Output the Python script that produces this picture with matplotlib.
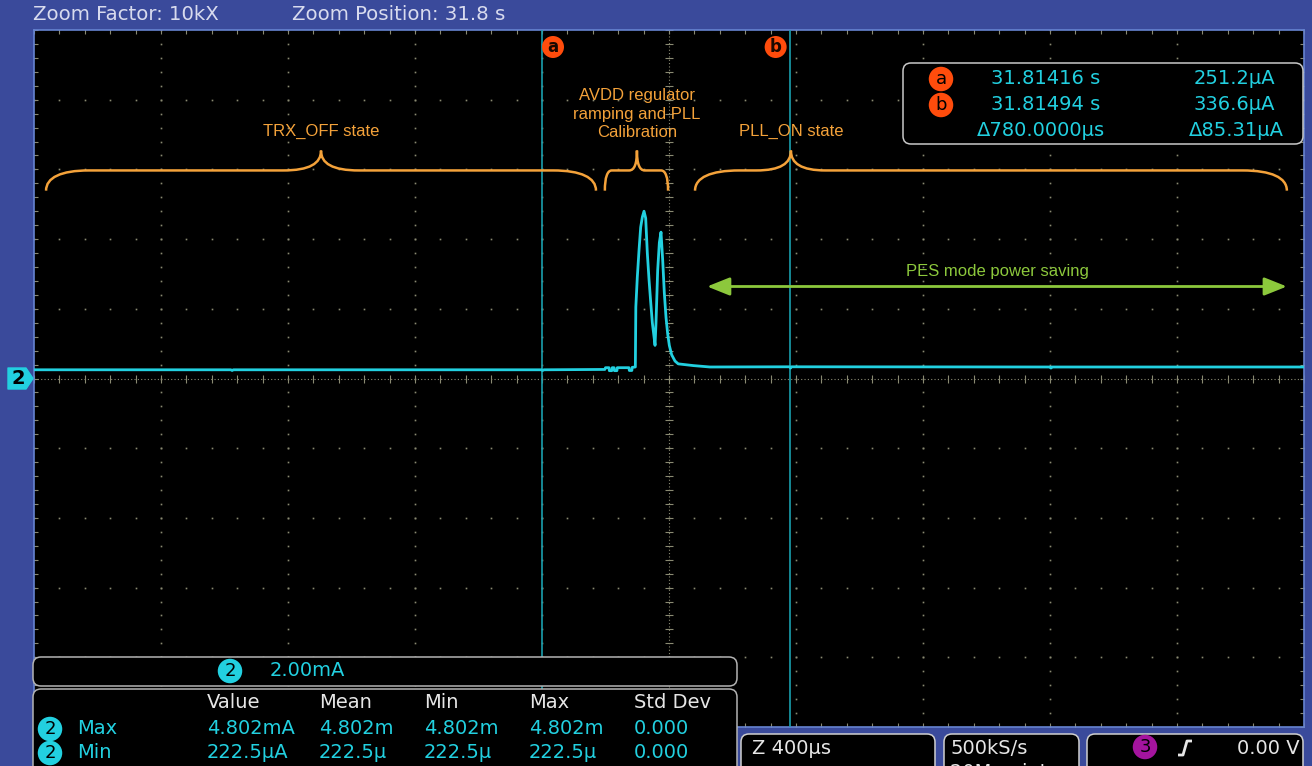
import numpy as np
import matplotlib.pyplot as plt
from matplotlib.patches import FancyBboxPatch, Polygon, PathPatch
from matplotlib.path import Path

W, H = 1312, 766

# --- ajustes del osciloscopio ---
zoom_factor = "10kX"
zoom_position = "31.8 s"
time_div_ms = 0.4          # Z 400us
amp_div_ma = 2.0           # canal 2: 2.00mA/div
n_div = 10
t_center_s = 31.81456

# cursores
cursor_a_s = 31.81416
cursor_b_s = 31.81494
cursor_a_val = "251.2µA"
cursor_b_val = "336.6µA"
cursor_dt = "Δ780.0000µs"
cursor_di = "Δ85.31µA"

# medidas
meas_cols = ["Value", "Mean", "Min", "Max", "Std Dev"]
meas_max = ["4.802mA", "4.802m", "4.802m", "4.802m", "0.000"]
meas_min = ["222.5µA", "222.5µ", "222.5µ", "222.5µ", "0.000"]

# traza del canal 2 (ms respecto al centro, mA)
t_ms = [-2.000, -1.380, -1.376, -1.372, -0.402, -0.398, -0.394, -0.202, -0.200,
        -0.189, -0.188, -0.180, -0.179, -0.173, -0.172, -0.164, -0.163, -0.126,
        -0.125, -0.117, -0.116, -0.106, -0.1045, -0.0998, -0.0945, -0.0892,
        -0.0840, -0.0787, -0.0734, -0.0683, -0.0630, -0.0577, -0.0525, -0.0472,
        -0.0440, -0.0410, -0.0357, -0.0304, -0.0252, -0.0199, -0.0147, -0.0094,
        -0.0042, 0.0010, 0.0084, 0.0190, 0.0290, 0.0770, 0.1290, 0.3800, 0.3830,
        0.3860, 1.2000, 1.2030, 1.2060, 2.000]
i_ma = [0.25, 0.25, 0.23, 0.25, 0.25, 0.23, 0.25, 0.26, 0.31,
        0.31, 0.225, 0.225, 0.31, 0.31, 0.225, 0.225, 0.31, 0.31,
        0.23, 0.23, 0.32, 0.33, 2.05, 2.91, 3.67, 4.34,
        4.63, 4.80, 4.60, 3.60, 2.85, 2.20, 1.60, 1.20,
        0.95, 1.58, 3.10, 3.90, 4.20, 3.40, 2.45, 1.75,
        1.28, 0.95, 0.68, 0.50, 0.42, 0.37, 0.33, 0.336, 0.30,
        0.336, 0.33, 0.30, 0.33, 0.33]

# anotaciones: (inicio, fin, punta) en ms
brace_spans = [(-1.962, -0.230, -1.096), (-0.202, -0.003, -0.101), (0.082, 1.946, 0.384)]
brace_hook = [0.135, 0.022, 0.14]
brace_tip = [0.12, 0.025, 0.11]
brace_labels = ["TRX_OFF state", "AVDD regulator\nramping and PLL\nCalibration", "PLL_ON state"]
pes_span = (0.120, 1.946)
pes_label = "PES mode power saving"

# colores
blue = "#3a4a9b"
frame = "#6683d0"
cyan = "#22d0e0"
cur_col = "#1a9fae"
dot_col = "#8a8a72"
orange = "#f4a23a"
green = "#8cc83c"
red = "#ff4c0c"
ui_font = ["DejaVu Sans"]
ann_font = ["Liberation Sans", "DejaVu Sans"]

fig = plt.figure(figsize=(W / 100, H / 100), dpi=100)
fig.patch.set_facecolor(blue)

# --- reticula ---
ax = fig.add_axes([34 / W, 1 - 727 / H, 1270 / W, 697 / H])
ax.set_facecolor("black")
half_t = n_div / 2 * time_div_ms
half_i = n_div / 2 * amp_div_ma
ax.set_xlim(-half_t, half_t)
ax.set_ylim(-half_i, half_i)
ax.set_xticks([])
ax.set_yticks([])
for s in ax.spines.values():
    s.set_color(frame)
    s.set_linewidth(1.2)

major_x = np.linspace(-half_t, half_t, n_div + 1)
major_y = np.linspace(-half_i, half_i, n_div + 1)
minor_x = np.linspace(-half_t, half_t, 5 * n_div + 1)
minor_y = np.linspace(-half_i, half_i, 5 * n_div + 1)

for xv in major_x[1:-1]:
    if abs(xv) > 1e-9:
        ax.plot(np.full_like(minor_y, xv), minor_y, ls="none", marker="s", ms=1.2,
                mec="none", color=dot_col)
for yv in major_y[1:-1]:
    if abs(yv) > 1e-9:
        ax.plot(minor_x, np.full_like(minor_x, yv), ls="none", marker="s", ms=1.2,
                mec="none", color=dot_col)

# cruz central
ax.axvline(0, color=dot_col, lw=0.8, ls=(0, (1, 2)))
ax.axhline(0, color=dot_col, lw=0.8, ls=(0, (1, 2)))
ax.plot(minor_x, np.zeros_like(minor_x), ls="none", marker="|", ms=6, mew=0.8, color=dot_col)
ax.plot(np.zeros_like(minor_y), minor_y, ls="none", marker="_", ms=6, mew=0.8, color=dot_col)

# marcas en los bordes
for yv in (-half_i, half_i):
    ax.plot(minor_x, np.full_like(minor_x, yv), ls="none", marker="|", ms=6, mew=0.8, color=dot_col)
for xv in (-half_t, half_t):
    ax.plot(np.full_like(minor_y, xv), minor_y, ls="none", marker="_", ms=6, mew=0.8, color=dot_col)

# cursores
ca = (cursor_a_s - t_center_s) * 1000
cb = (cursor_b_s - t_center_s) * 1000
ax.axvline(ca, color=cur_col, lw=1.2, zorder=4)
ax.axvline(cb, color=cur_col, lw=1.2, zorder=4)
for cx, lab, dx in ((ca, "a", 11), (cb, "b", -14)):
    ax.annotate(lab, xy=(cx, half_i), xytext=(dx, -17), textcoords="offset pixels",
                ha="center", va="center", fontsize=12, fontweight="bold", color="#1a0800",
                family=ui_font,
                bbox=dict(boxstyle="circle,pad=0.12", fc=red, ec="none"), zorder=6)

# traza
ax.plot(t_ms, i_ma, color=cyan, lw=2, zorder=5)


def brace(ax, x0, x1, xt, hook, tip, y_end, y_h, y_tip, **kw):
    verts = [(x0, y_end),
             (x0, y_h - (y_h - y_end) * 0.35), (x0 + hook * 0.35, y_h), (x0 + hook, y_h),
             (xt - tip, y_h),
             (xt - tip * 0.3, y_h), (xt, y_h + (y_tip - y_h) * 0.35), (xt, y_tip),
             (xt, y_h + (y_tip - y_h) * 0.35), (xt + tip * 0.3, y_h), (xt + tip, y_h),
             (x1 - hook, y_h),
             (x1 - hook * 0.35, y_h), (x1, y_h - (y_h - y_end) * 0.35), (x1, y_end)]
    codes = [Path.MOVETO, Path.CURVE4, Path.CURVE4, Path.CURVE4, Path.LINETO,
             Path.CURVE4, Path.CURVE4, Path.CURVE4, Path.CURVE4, Path.CURVE4, Path.CURVE4,
             Path.LINETO, Path.CURVE4, Path.CURVE4, Path.CURVE4]
    ax.add_patch(PathPatch(Path(verts, codes), fill=False, **kw))


y_end, y_h, y_tip = 5.39, 5.97, 6.54
for (x0, x1, xt), hk, tp in zip(brace_spans, brace_hook, brace_tip):
    brace(ax, x0, x1, xt, hk, tp, y_end, y_h, y_tip, ec=orange, lw=1.8, zorder=6)

ax.text(brace_spans[0][2], 7.09, brace_labels[0], ha="center", va="center",
        fontsize=12, color=orange, family=ann_font, zorder=6)
ax.text(brace_spans[1][2], 7.58, brace_labels[1], ha="center", va="center",
        fontsize=12, color=orange, family=ann_font, linespacing=1.3, zorder=6)
ax.text(brace_spans[2][2], 7.09, brace_labels[2], ha="center", va="center",
        fontsize=12, color=orange, family=ann_font, zorder=6)

ax.annotate("", xy=(pes_span[1], 2.64), xytext=(pes_span[0], 2.64),
            arrowprops=dict(arrowstyle="<|-|>,head_length=0.55,head_width=0.22",
                            color=green, lw=2, mutation_scale=25, shrinkA=0, shrinkB=0),
            zorder=6)
ax.text(sum(pes_span) / 2, 3.07, pes_label, ha="center", va="center",
        fontsize=12, color=green, family=ann_font, zorder=6)

# --- capa de interfaz en pixeles ---
ov = fig.add_axes([0, 0, 1, 1], zorder=3)
ov.set_xlim(0, W)
ov.set_ylim(H, 0)
ov.axis("off")
ov.patch.set_alpha(0)


def panel(x0, y0, x1, y1, ec="#b4b4b4"):
    ov.add_patch(FancyBboxPatch((x0, y0), x1 - x0, y1 - y0,
                                boxstyle="round,pad=0,rounding_size=8",
                                fc="black", ec=ec, lw=1.1))


def badge(x, y, txt, fc):
    ov.text(x, y, txt, ha="center", va="center", fontsize=13, color="black",
            family=ui_font, bbox=dict(boxstyle="circle,pad=0.18", fc=fc, ec="none"))


# barra superior
ov.text(33, 15, "Zoom Factor: " + zoom_factor, ha="left", va="center",
        fontsize=14.2, color="#d8dbee", family=ui_font)
ov.text(292, 15, "Zoom Position: " + zoom_position, ha="left", va="center",
        fontsize=14.2, color="#d8dbee", family=ui_font)

# lectura de cursores
panel(903, 63, 1303, 144, ec="#c8c8c8")
badge(941, 79, "a", red)
badge(941, 105, "b", red)
ov.text(991, 79, f"{cursor_a_s:.5f} s", ha="left", va="center",
        fontsize=14, color=cyan, family=ui_font)
ov.text(991, 105, f"{cursor_b_s:.5f} s", ha="left", va="center",
        fontsize=14, color=cyan, family=ui_font)
ov.text(977, 131, cursor_dt, ha="left", va="center", fontsize=14, color=cyan, family=ui_font)
ov.text(1275, 79, cursor_a_val, ha="right", va="center", fontsize=14, color=cyan, family=ui_font)
ov.text(1275, 105, cursor_b_val, ha="right", va="center", fontsize=14, color=cyan, family=ui_font)
ov.text(1284, 131, cursor_di, ha="right", va="center", fontsize=14, color=cyan, family=ui_font)

# marcador del canal 2
ov.add_patch(Polygon([(8, 368), (26, 368), (33, 378.5), (26, 389), (8, 389)],
                     closed=True, fc=cyan, ec=cyan, lw=1, joinstyle="round"))
ov.text(18, 379, "2", ha="center", va="center", fontsize=14, fontweight="bold",
        color="black", family=ui_font)

# escala vertical
panel(33, 657, 737, 686)
badge(230, 671, "2", cyan)
ov.text(270, 671, "%.2fmA" % amp_div_ma, ha="left", va="center", fontsize=14,
        color=cyan, family=ui_font)

# tabla de medidas
panel(33, 689, 737, 790)
col_x = [207, 319, 424, 529, 634]
for cx, lab, vmax, vmin in zip(col_x, meas_cols, meas_max, meas_min):
    ov.text(cx, 703, lab, ha="left", va="center", fontsize=14, color="#e6e6e6", family=ui_font)
    ov.text(cx, 729, vmax, ha="left", va="center", fontsize=14, color=cyan, family=ui_font)
    ov.text(cx, 753, vmin, ha="left", va="center", fontsize=14, color=cyan, family=ui_font)
for yv, lab in ((729, "Max"), (753, "Min")):
    badge(50, yv, "2", cyan)
    ov.text(77, yv, lab, ha="left", va="center", fontsize=14, color=cyan, family=ui_font)

# base de tiempos y disparo
panel(741, 734, 935, 790, ec="#d0d0d0")
panel(944, 734, 1079, 790, ec="#d0d0d0")
panel(1087, 734, 1303, 790, ec="#d0d0d0")
ov.text(752, 748, "Z %dµs" % round(time_div_ms * 1000), ha="left", va="center",
        fontsize=14, color="#e6e6e6", family=ui_font)
ov.text(950, 748, "500kS/s", ha="left", va="center", fontsize=14, color="#e6e6e6", family=ui_font)
# segunda linea del panel, cortada por el borde inferior de la pantalla
ov.text(950, 773, "20M points", ha="left", va="center", fontsize=14, color="#e6e6e6",
        family=ui_font)
badge(1145, 747, "3", "#a4149e")
ov.plot([1178, 1183, 1187, 1192], [755, 755, 741, 741], color="#e6e6e6", lw=2,
        solid_capstyle="butt")
ov.text(1300, 748, "0.00 V", ha="right", va="center", fontsize=14, color="#e6e6e6", family=ui_font)

fig.savefig("out.png", dpi=100, facecolor=blue)
